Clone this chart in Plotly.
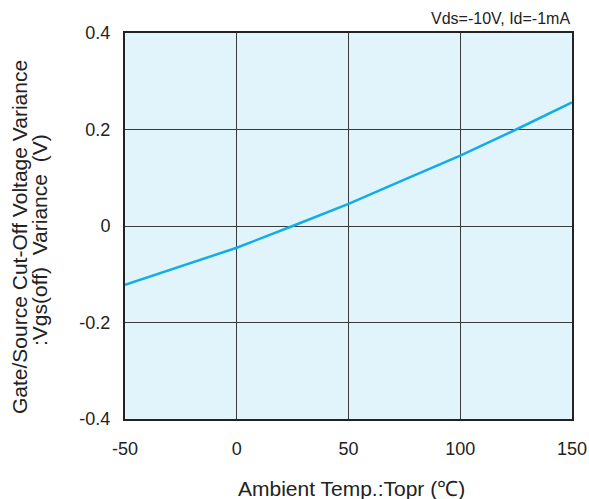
import plotly.graph_objects as go

temp = [-50, -25, 0, 25, 50, 75, 100, 125, 150]
vgs_var = [-0.122, -0.084, -0.045, 0.0, 0.046, 0.096, 0.146, 0.200, 0.256]
x_ticks = [-50, 0, 50, 100, 150]
x_tick_text = ["-50", "0", "50", "100", "150"]
y_ticks = [-0.4, -0.2, 0, 0.2, 0.4]
y_tick_text = ["-0.4", "-0.2", "0", "0.2", "0.4"]

fig = go.Figure()
fig.add_trace(go.Scatter(x=temp, y=vgs_var, mode="lines",
                         line=dict(color="#12ACE8", width=2.5), showlegend=False))

font = "Liberation Sans, Arial, sans-serif"
txt = "#222"
fig.update_layout(
    width=589, height=499,
    margin=dict(l=125, r=17, t=33, b=80),
    paper_bgcolor="white",
    plot_bgcolor="#E2F4FB",
    font=dict(family=font, size=18, color=txt),
    xaxis=dict(range=[-50, 150], tickvals=x_ticks, ticktext=x_tick_text, showgrid=True,
               gridcolor="#3a3a3a", gridwidth=1, zeroline=False,
               showline=True, linecolor="#222", linewidth=2, mirror=True,
               ticks="outside", ticklen=0, ticklabelstandoff=12, automargin=False),
    yaxis=dict(range=[-0.4, 0.4], tickvals=y_ticks, ticktext=y_tick_text, showgrid=True,
               gridcolor="#3a3a3a", gridwidth=1, zeroline=False,
               showline=True, linecolor="#222", linewidth=2, mirror=True,
               ticks="outside", ticklen=0, ticklabelstandoff=9, automargin=False),
    annotations=[
        dict(text="Vds=-10V, Id=-1mA", x=1, y=1, xref="paper", yref="paper",
             xanchor="right", yanchor="middle", yshift=15, showarrow=False,
             font=dict(size=16, color=txt)),
        dict(text="Ambient Temp.:Topr (℃)", x=0.5, y=0, xref="paper", yref="paper",
             xanchor="center", yanchor="middle", xshift=3, yshift=-69, showarrow=False,
             font=dict(size=21, color=txt)),
        dict(text="Gate/Source Cut-Off Voltage Variance", x=0, y=0.5, xref="paper", yref="paper",
             xanchor="center", yanchor="middle", xshift=-106, yshift=-11, textangle=-90,
             showarrow=False, font=dict(size=21, color=txt)),
        dict(text=":Vgs(off)  Variance  (V)", x=0, y=0.5, xref="paper", yref="paper",
             xanchor="center", yanchor="middle", xshift=-86, yshift=-14, textangle=-90,
             showarrow=False, font=dict(size=21, color=txt)),
    ],
)
fig.write_html("out.html", config={"displayModeBar": False},
               post_script="document.body.style.margin='0';document.body.style.padding='0';")
